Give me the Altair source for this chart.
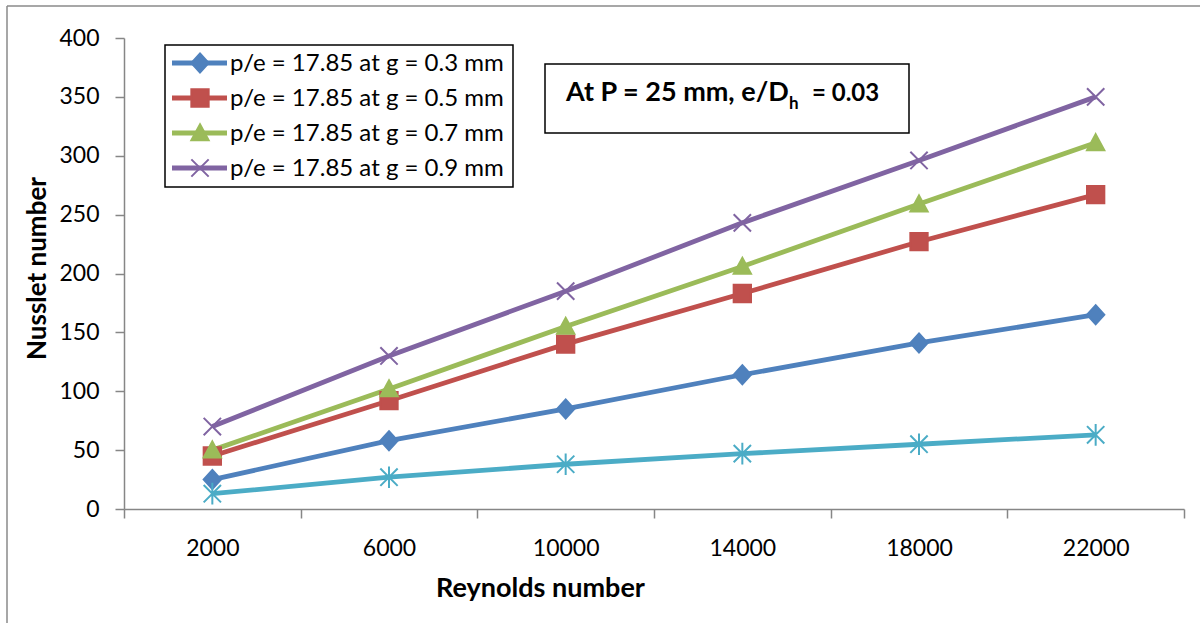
import altair as alt
import pandas as pd

# ---- data ----
reynolds = [2000, 6000, 10000, 14000, 18000, 22000]
series_names = [
    "p/e = 17.85 at g = 0.3 mm",
    "p/e = 17.85 at g = 0.5 mm",
    "p/e = 17.85 at g = 0.7 mm",
    "p/e = 17.85 at g = 0.9 mm",
    "Smooth duct",
]
nu_g03 = [25, 58, 85, 114, 141, 165]
nu_g05 = [45, 92, 140, 183, 227, 267]
nu_g07 = [50, 102, 155, 206, 259, 311]
nu_g09 = [70, 130, 185, 243, 296, 350]
nu_smooth = [13, 27, 38, 47, 55, 63]
x_axis_title = "Reynolds number"
y_axis_title = "Nusslet number"
y_ticks = [0, 50, 100, 150, 200, 250, 300, 350, 400]
annotation_main = "At P = 25 mm, e/D"
annotation_sub = "h"
annotation_tail = "= 0.03"

colors = ["#4F81BD", "#C0504D", "#9BBB59", "#8064A2", "#4BACC6"]
shapes = [
    "M0,-1.1L1,0L0,1.1L-1,0Z",
    "M-1,-1L1,-1L1,1L-1,1Z",
    "M0,-1L1,0.85L-1,0.85Z",
    "M-1,-1L1,1M-1,1L1,-1",
    "M-1,-1L1,1M-1,1L1,-1M0,-1.25L0,1.25",
]

values = [nu_g03, nu_g05, nu_g07, nu_g09, nu_smooth]
rows = []
for i, (name, vals) in enumerate(zip(series_names, values)):
    for re, nu in zip(reynolds, vals):
        rows.append({"Re": re, "Nu": nu, "series": name, "order": i})
df = pd.DataFrame(rows)

FONT = "Lato"
GRAY = "#868686"
W, H = 1060, 471
step = reynolds[1] - reynolds[0]
x_domain = [reynolds[0] - step // 2, reynolds[-1] + step // 2]
boundaries = list(range(x_domain[0], x_domain[1] + 1, step))
all_vals = sorted(set(boundaries + reynolds))

color_scale = alt.Scale(domain=series_names, range=colors)
shape_scale = alt.Scale(domain=series_names, range=shapes)

x_enc = alt.X(
    "Re:Q",
    scale=alt.Scale(domain=x_domain, nice=False, zero=False),
    axis=alt.Axis(
        values=all_vals,
        format="d",
        labelExpr=f"(datum.value - {x_domain[0]}) % {step} == 0 ? '' : datum.label",
        tickOpacity={"condition": {"test": f"(datum.value - {x_domain[0]}) % {step} == 0", "value": 1}, "value": 0},
        labelOverlap=False,
        labelFlush=False,
        grid=False,
        domainColor=GRAY,
        domainWidth=1.5,
        tickColor=GRAY,
        tickWidth=1.5,
        tickSize=9,
        labelFont=FONT,
        labelFontSize=23,
        labelColor="#000000",
        labelPadding=19,
        title=x_axis_title,
        titleFont=FONT,
        titleFontSize=27,
        titleFontWeight="bold",
        titleColor="#000000",
        titleX=416,
        titleY=79,
        titleAlign="center",
        titleBaseline="middle",
    ),
)
y_enc = alt.Y(
    "Nu:Q",
    scale=alt.Scale(domain=[0, 400], nice=False),
    axis=alt.Axis(
        values=y_ticks,
        grid=False,
        domainColor=GRAY,
        domainWidth=1.5,
        tickColor=GRAY,
        tickWidth=1.5,
        tickSize=9,
        labelFont=FONT,
        labelFontSize=23,
        labelColor="#000000",
        labelPadding=16,
        title=y_axis_title,
        titleFont=FONT,
        titleFontSize=26,
        titleFontWeight="bold",
        titleColor="#000000",
        titleX=-87,
        titleY=230,
        titleAngle=270,
        titleAlign="center",
        titleBaseline="middle",
    ),
)

base = alt.Chart(df)
lines = base.mark_line(strokeWidth=4.8).encode(
    x=x_enc,
    y=y_enc,
    color=alt.Color("series:N", scale=color_scale, legend=None),
    order="order:Q",
    detail="series:N",
)
points = base.mark_point(filled=True, strokeWidth=2, opacity=1).encode(
    x="Re:Q",
    y="Nu:Q",
    fill=alt.Fill("series:N", scale=color_scale, legend=None),
    stroke=alt.Stroke("series:N", scale=color_scale, legend=None),
    shape=alt.Shape("series:N", scale=shape_scale, legend=None),
    size=alt.value(300),
    order="order:Q",
)

layers = [lines, points]

# outer frame (partial, as in the reference)
frame = "#8A8A8A"
one = pd.DataFrame({"k": [0]})
layers.append(alt.Chart(one).mark_rule(color=frame, strokeWidth=1.5).encode(
    x=alt.value(-117), y=alt.value(-32), y2=alt.value(600)))
layers.append(alt.Chart(one).mark_rule(color=frame, strokeWidth=1.5).encode(
    x=alt.value(-117), x2=alt.value(1100), y=alt.value(-32)))

# legend box (manual, shows line + marker)
layers.append(alt.Chart(one).mark_rect(fill="white", stroke="black", strokeWidth=1.5).encode(
    x=alt.value(41), x2=alt.value(389), y=alt.value(7), y2=alt.value(149)))
for i in range(4):
    yy = 25 + i * 35
    lab = pd.DataFrame({"label": [series_names[i]]})
    layers.append(alt.Chart(lab).mark_rule(color=colors[i], strokeWidth=4.8).encode(
        x=alt.value(48), x2=alt.value(103), y=alt.value(yy)))
    layers.append(alt.Chart(lab).mark_point(
        filled=True, fill=colors[i], stroke=colors[i], strokeWidth=2, opacity=1,
        shape=shapes[i], size=300).encode(x=alt.value(76), y=alt.value(yy)))
    layers.append(alt.Chart(lab).mark_text(
        font=FONT, fontSize=24, align="left", baseline="middle", color="black").encode(
        x=alt.value(106), y=alt.value(yy + 1), text="label:N"))

# annotation box
layers.append(alt.Chart(one).mark_rect(fill="white", stroke="black", strokeWidth=1.5).encode(
    x=alt.value(421), x2=alt.value(785), y=alt.value(26), y2=alt.value(95)))
ann = pd.DataFrame({"a": [annotation_main], "b": [annotation_sub], "c": [annotation_tail]})
layers.append(alt.Chart(ann).mark_text(font=FONT, fontSize=27, fontWeight="bold",
                                       align="left", baseline="alphabetic", color="black").encode(
    x=alt.value(442), y=alt.value(63), text="a:N"))
layers.append(alt.Chart(ann).mark_text(font=FONT, fontSize=17, fontWeight="bold",
                                       align="left", baseline="alphabetic", color="black").encode(
    x=alt.value(665), y=alt.value(71), text="b:N"))
layers.append(alt.Chart(ann).mark_text(font=FONT, fontSize=24, fontWeight="bold",
                                       align="left", baseline="alphabetic", color="black").encode(
    x=alt.value(688), y=alt.value(63), text="c:N"))

chart = alt.layer(*layers).properties(
    width=W,
    height=H,
    autosize=alt.AutoSizeParams(type="none"),
    padding={"left": 124, "top": 38, "right": 16, "bottom": 114},
    background="white",
).configure_view(strokeWidth=0)

chart.save("out.html", embed_options={"renderer": "svg", "actions": False})
